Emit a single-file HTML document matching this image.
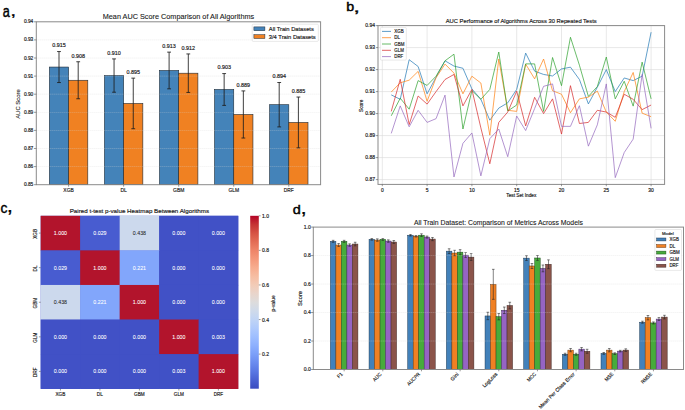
<!DOCTYPE html>
<html><head><meta charset="utf-8"><title>Figure</title>
<style>
html,body{margin:0;padding:0;background:#fff;}
body{width:685px;height:410px;overflow:hidden;font-family:"Liberation Sans",sans-serif;}
svg{display:block;}
</style></head><body>
<svg width="685" height="410" viewBox="0 0 685 410" font-family="Liberation Sans, sans-serif">
<text transform="translate(2.87 16.64) scale(0.787 1)" font-size="16.06" fill="#000" stroke="#000" stroke-width="0.45">a</text>
<text transform="translate(10.27 15.83) scale(1.325 1)" font-size="16.17" fill="#000" stroke="#000" stroke-width="0.25">,</text>
<text transform="translate(346.37 11.47) scale(1.103 1)" font-size="12.93" fill="#000" stroke="#000" stroke-width="0.45">b</text>
<text transform="translate(353.2 11.59) scale(1.644 1)" font-size="14.89" fill="#000" stroke="#000" stroke-width="0.25">,</text>
<text transform="translate(0.42 212.75) scale(0.906 1)" font-size="15.33" fill="#000" stroke="#000" stroke-width="0.4">c</text>
<text transform="translate(6.78 211.95) scale(1.172 1)" font-size="19.15" fill="#000" stroke="#000" stroke-width="0.25">,</text>
<text transform="translate(292.79 214.47) scale(1.072 1)" font-size="13.47" fill="#000" stroke="#000" stroke-width="0.45">d</text>
<text transform="translate(300.58 214.21) scale(1.256 1)" font-size="17.87" fill="#000" stroke="#000" stroke-width="0.25">,</text>
<rect x="49.4" y="67.05" width="19.2" height="117.65" fill="#4483b9" stroke="#1d2a36" stroke-width="0.6"/>
<rect x="68.6" y="80.26" width="19.2" height="104.44" fill="#f08122" stroke="#1d2a36" stroke-width="0.6"/>
<rect x="104.45" y="75.56" width="19.2" height="109.14" fill="#4483b9" stroke="#1d2a36" stroke-width="0.6"/>
<rect x="123.65" y="103.43" width="19.2" height="81.27" fill="#f08122" stroke="#1d2a36" stroke-width="0.6"/>
<rect x="159.5" y="70.49" width="19.2" height="114.21" fill="#4483b9" stroke="#1d2a36" stroke-width="0.6"/>
<rect x="178.7" y="73.2" width="19.2" height="111.5" fill="#f08122" stroke="#1d2a36" stroke-width="0.6"/>
<rect x="214.55" y="89.49" width="19.2" height="95.21" fill="#4483b9" stroke="#1d2a36" stroke-width="0.6"/>
<rect x="233.75" y="114.47" width="19.2" height="70.23" fill="#f08122" stroke="#1d2a36" stroke-width="0.6"/>
<rect x="269.6" y="104.7" width="19.2" height="80" fill="#4483b9" stroke="#1d2a36" stroke-width="0.6"/>
<rect x="288.8" y="122.44" width="19.2" height="62.26" fill="#f08122" stroke="#1d2a36" stroke-width="0.6"/>
<line x1="36.3" y1="166.6" x2="320.6" y2="166.6" stroke="#d8d8d8" stroke-width="0.6" stroke-dasharray="1.1,0.9" opacity="0.6"/>
<line x1="36.3" y1="148.5" x2="320.6" y2="148.5" stroke="#d8d8d8" stroke-width="0.6" stroke-dasharray="1.1,0.9" opacity="0.6"/>
<line x1="36.3" y1="130.4" x2="320.6" y2="130.4" stroke="#d8d8d8" stroke-width="0.6" stroke-dasharray="1.1,0.9" opacity="0.6"/>
<line x1="36.3" y1="112.3" x2="320.6" y2="112.3" stroke="#d8d8d8" stroke-width="0.6" stroke-dasharray="1.1,0.9" opacity="0.6"/>
<line x1="36.3" y1="94.2" x2="320.6" y2="94.2" stroke="#d8d8d8" stroke-width="0.6" stroke-dasharray="1.1,0.9" opacity="0.6"/>
<line x1="36.3" y1="76.1" x2="320.6" y2="76.1" stroke="#d8d8d8" stroke-width="0.6" stroke-dasharray="1.1,0.9" opacity="0.6"/>
<line x1="36.3" y1="58" x2="320.6" y2="58" stroke="#d8d8d8" stroke-width="0.6" stroke-dasharray="1.1,0.9" opacity="0.6"/>
<line x1="36.3" y1="39.9" x2="320.6" y2="39.9" stroke="#d8d8d8" stroke-width="0.6" stroke-dasharray="1.1,0.9" opacity="0.6"/>
<line x1="59" y1="51.55" x2="59" y2="82.55" stroke="#1e1e1e" stroke-width="0.85"/>
<line x1="57.1" y1="51.55" x2="60.9" y2="51.55" stroke="#1e1e1e" stroke-width="0.85"/>
<line x1="57.1" y1="82.55" x2="60.9" y2="82.55" stroke="#1e1e1e" stroke-width="0.85"/>
<text x="59" y="47.35" font-size="5.14" text-anchor="middle" fill="#1a1a1a" stroke="#1a1a1a" stroke-width="0.16" textLength="13.51" lengthAdjust="spacingAndGlyphs">0.915</text>
<line x1="78.2" y1="61.76" x2="78.2" y2="98.76" stroke="#1e1e1e" stroke-width="0.85"/>
<line x1="76.3" y1="61.76" x2="80.1" y2="61.76" stroke="#1e1e1e" stroke-width="0.85"/>
<line x1="76.3" y1="98.76" x2="80.1" y2="98.76" stroke="#1e1e1e" stroke-width="0.85"/>
<text x="78.2" y="57.56" font-size="5.14" text-anchor="middle" fill="#1a1a1a" stroke="#1a1a1a" stroke-width="0.16" textLength="13.51" lengthAdjust="spacingAndGlyphs">0.908</text>
<line x1="114.05" y1="58.91" x2="114.05" y2="92.21" stroke="#1e1e1e" stroke-width="0.85"/>
<line x1="112.15" y1="58.91" x2="115.95" y2="58.91" stroke="#1e1e1e" stroke-width="0.85"/>
<line x1="112.15" y1="92.21" x2="115.95" y2="92.21" stroke="#1e1e1e" stroke-width="0.85"/>
<text x="114.05" y="54.71" font-size="5.14" text-anchor="middle" fill="#1a1a1a" stroke="#1a1a1a" stroke-width="0.16" textLength="13.51" lengthAdjust="spacingAndGlyphs">0.910</text>
<line x1="133.25" y1="78.13" x2="133.25" y2="128.73" stroke="#1e1e1e" stroke-width="0.85"/>
<line x1="131.35" y1="78.13" x2="135.15" y2="78.13" stroke="#1e1e1e" stroke-width="0.85"/>
<line x1="131.35" y1="128.73" x2="135.15" y2="128.73" stroke="#1e1e1e" stroke-width="0.85"/>
<text x="133.25" y="73.93" font-size="5.14" text-anchor="middle" fill="#1a1a1a" stroke="#1a1a1a" stroke-width="0.16" textLength="13.51" lengthAdjust="spacingAndGlyphs">0.895</text>
<line x1="169.1" y1="52.14" x2="169.1" y2="88.84" stroke="#1e1e1e" stroke-width="0.85"/>
<line x1="167.2" y1="52.14" x2="171" y2="52.14" stroke="#1e1e1e" stroke-width="0.85"/>
<line x1="167.2" y1="88.84" x2="171" y2="88.84" stroke="#1e1e1e" stroke-width="0.85"/>
<text x="169.1" y="47.94" font-size="5.14" text-anchor="middle" fill="#1a1a1a" stroke="#1a1a1a" stroke-width="0.16" textLength="13.51" lengthAdjust="spacingAndGlyphs">0.913</text>
<line x1="188.3" y1="53.95" x2="188.3" y2="92.45" stroke="#1e1e1e" stroke-width="0.85"/>
<line x1="186.4" y1="53.95" x2="190.2" y2="53.95" stroke="#1e1e1e" stroke-width="0.85"/>
<line x1="186.4" y1="92.45" x2="190.2" y2="92.45" stroke="#1e1e1e" stroke-width="0.85"/>
<text x="188.3" y="49.75" font-size="5.14" text-anchor="middle" fill="#1a1a1a" stroke="#1a1a1a" stroke-width="0.16" textLength="13.51" lengthAdjust="spacingAndGlyphs">0.912</text>
<line x1="224.15" y1="73.59" x2="224.15" y2="105.39" stroke="#1e1e1e" stroke-width="0.85"/>
<line x1="222.25" y1="73.59" x2="226.05" y2="73.59" stroke="#1e1e1e" stroke-width="0.85"/>
<line x1="222.25" y1="105.39" x2="226.05" y2="105.39" stroke="#1e1e1e" stroke-width="0.85"/>
<text x="224.15" y="69.39" font-size="5.14" text-anchor="middle" fill="#1a1a1a" stroke="#1a1a1a" stroke-width="0.16" textLength="13.51" lengthAdjust="spacingAndGlyphs">0.903</text>
<line x1="243.35" y1="90.92" x2="243.35" y2="138.02" stroke="#1e1e1e" stroke-width="0.85"/>
<line x1="241.45" y1="90.92" x2="245.25" y2="90.92" stroke="#1e1e1e" stroke-width="0.85"/>
<line x1="241.45" y1="138.02" x2="245.25" y2="138.02" stroke="#1e1e1e" stroke-width="0.85"/>
<text x="243.35" y="86.72" font-size="5.14" text-anchor="middle" fill="#1a1a1a" stroke="#1a1a1a" stroke-width="0.16" textLength="13.51" lengthAdjust="spacingAndGlyphs">0.889</text>
<line x1="279.2" y1="82.5" x2="279.2" y2="126.9" stroke="#1e1e1e" stroke-width="0.85"/>
<line x1="277.3" y1="82.5" x2="281.1" y2="82.5" stroke="#1e1e1e" stroke-width="0.85"/>
<line x1="277.3" y1="126.9" x2="281.1" y2="126.9" stroke="#1e1e1e" stroke-width="0.85"/>
<text x="279.2" y="78.3" font-size="5.14" text-anchor="middle" fill="#1a1a1a" stroke="#1a1a1a" stroke-width="0.16" textLength="13.51" lengthAdjust="spacingAndGlyphs">0.894</text>
<line x1="298.4" y1="97.04" x2="298.4" y2="147.84" stroke="#1e1e1e" stroke-width="0.85"/>
<line x1="296.5" y1="97.04" x2="300.3" y2="97.04" stroke="#1e1e1e" stroke-width="0.85"/>
<line x1="296.5" y1="147.84" x2="300.3" y2="147.84" stroke="#1e1e1e" stroke-width="0.85"/>
<text x="298.4" y="92.84" font-size="5.14" text-anchor="middle" fill="#1a1a1a" stroke="#1a1a1a" stroke-width="0.16" textLength="13.51" lengthAdjust="spacingAndGlyphs">0.885</text>
<rect x="36.3" y="21.8" width="284.3" height="162.9" fill="none" stroke="#8a8a8a" stroke-width="1"/>
<line x1="33.9" y1="184.7" x2="36.3" y2="184.7" stroke="#555555" stroke-width="0.6"/>
<text x="33.3" y="186.25" font-size="4.58" text-anchor="end" fill="#1a1a1a" stroke="#1a1a1a" stroke-width="0.16" textLength="9.35" lengthAdjust="spacingAndGlyphs">0.85</text>
<line x1="33.9" y1="166.6" x2="36.3" y2="166.6" stroke="#555555" stroke-width="0.6"/>
<text x="33.3" y="168.15" font-size="4.58" text-anchor="end" fill="#1a1a1a" stroke="#1a1a1a" stroke-width="0.16" textLength="9.35" lengthAdjust="spacingAndGlyphs">0.86</text>
<line x1="33.9" y1="148.5" x2="36.3" y2="148.5" stroke="#555555" stroke-width="0.6"/>
<text x="33.3" y="150.05" font-size="4.58" text-anchor="end" fill="#1a1a1a" stroke="#1a1a1a" stroke-width="0.16" textLength="9.35" lengthAdjust="spacingAndGlyphs">0.87</text>
<line x1="33.9" y1="130.4" x2="36.3" y2="130.4" stroke="#555555" stroke-width="0.6"/>
<text x="33.3" y="131.95" font-size="4.58" text-anchor="end" fill="#1a1a1a" stroke="#1a1a1a" stroke-width="0.16" textLength="9.35" lengthAdjust="spacingAndGlyphs">0.88</text>
<line x1="33.9" y1="112.3" x2="36.3" y2="112.3" stroke="#555555" stroke-width="0.6"/>
<text x="33.3" y="113.85" font-size="4.58" text-anchor="end" fill="#1a1a1a" stroke="#1a1a1a" stroke-width="0.16" textLength="9.35" lengthAdjust="spacingAndGlyphs">0.89</text>
<line x1="33.9" y1="94.2" x2="36.3" y2="94.2" stroke="#555555" stroke-width="0.6"/>
<text x="33.3" y="95.75" font-size="4.58" text-anchor="end" fill="#1a1a1a" stroke="#1a1a1a" stroke-width="0.16" textLength="9.35" lengthAdjust="spacingAndGlyphs">0.90</text>
<line x1="33.9" y1="76.1" x2="36.3" y2="76.1" stroke="#555555" stroke-width="0.6"/>
<text x="33.3" y="77.65" font-size="4.58" text-anchor="end" fill="#1a1a1a" stroke="#1a1a1a" stroke-width="0.16" textLength="9.35" lengthAdjust="spacingAndGlyphs">0.91</text>
<line x1="33.9" y1="58" x2="36.3" y2="58" stroke="#555555" stroke-width="0.6"/>
<text x="33.3" y="59.55" font-size="4.58" text-anchor="end" fill="#1a1a1a" stroke="#1a1a1a" stroke-width="0.16" textLength="9.35" lengthAdjust="spacingAndGlyphs">0.92</text>
<line x1="33.9" y1="39.9" x2="36.3" y2="39.9" stroke="#555555" stroke-width="0.6"/>
<text x="33.3" y="41.45" font-size="4.58" text-anchor="end" fill="#1a1a1a" stroke="#1a1a1a" stroke-width="0.16" textLength="9.35" lengthAdjust="spacingAndGlyphs">0.93</text>
<line x1="33.9" y1="21.8" x2="36.3" y2="21.8" stroke="#555555" stroke-width="0.6"/>
<text x="33.3" y="23.35" font-size="4.58" text-anchor="end" fill="#1a1a1a" stroke="#1a1a1a" stroke-width="0.16" textLength="9.35" lengthAdjust="spacingAndGlyphs">0.94</text>
<line x1="68.6" y1="184.7" x2="68.6" y2="186.7" stroke="#555555" stroke-width="0.6"/>
<text x="68.6" y="192.2" font-size="5.33" text-anchor="middle" fill="#1a1a1a" stroke="#1a1a1a" stroke-width="0.16" textLength="10.49" lengthAdjust="spacingAndGlyphs">XGB</text>
<line x1="123.65" y1="184.7" x2="123.65" y2="186.7" stroke="#555555" stroke-width="0.6"/>
<text x="123.65" y="192.2" font-size="5.33" text-anchor="middle" fill="#1a1a1a" stroke="#1a1a1a" stroke-width="0.16" textLength="6.49" lengthAdjust="spacingAndGlyphs">DL</text>
<line x1="178.7" y1="184.7" x2="178.7" y2="186.7" stroke="#555555" stroke-width="0.6"/>
<text x="178.7" y="192.2" font-size="5.33" text-anchor="middle" fill="#1a1a1a" stroke="#1a1a1a" stroke-width="0.16" textLength="11.36" lengthAdjust="spacingAndGlyphs">GBM</text>
<line x1="233.75" y1="184.7" x2="233.75" y2="186.7" stroke="#555555" stroke-width="0.6"/>
<text x="233.75" y="192.2" font-size="5.33" text-anchor="middle" fill="#1a1a1a" stroke="#1a1a1a" stroke-width="0.16" textLength="10.73" lengthAdjust="spacingAndGlyphs">GLM</text>
<line x1="288.8" y1="184.7" x2="288.8" y2="186.7" stroke="#555555" stroke-width="0.6"/>
<text x="288.8" y="192.2" font-size="5.33" text-anchor="middle" fill="#1a1a1a" stroke="#1a1a1a" stroke-width="0.16" textLength="9.98" lengthAdjust="spacingAndGlyphs">DRF</text>
<text x="178.45" y="19.2" font-size="7.13" text-anchor="middle" fill="#1a1a1a" stroke="#1a1a1a" stroke-width="0.1" textLength="151.44" lengthAdjust="spacingAndGlyphs">Mean AUC Score Comparison of All Algorithms</text>
<text x="20.2" y="104" font-size="6.19" text-anchor="middle" fill="#1a1a1a" stroke="#1a1a1a" stroke-width="0.1" textLength="29.72" lengthAdjust="spacingAndGlyphs" transform="rotate(-90 20.2 104)">AUC Score</text>
<rect x="252.2" y="24.2" width="66.1" height="17.2" fill="#ffffff" stroke="#d6d6d6" stroke-width="0.6" rx="1" opacity="0.9"/>
<rect x="253.9" y="26.9" width="11" height="3.8" fill="#4483b9" stroke="#1d2a36" stroke-width="0.5"/>
<rect x="253.9" y="34.7" width="11" height="3.8" fill="#f08122" stroke="#1d2a36" stroke-width="0.5"/>
<text x="268.8" y="30.7" font-size="5.64" fill="#1a1a1a" stroke="#1a1a1a" stroke-width="0.16" textLength="45.04" lengthAdjust="spacingAndGlyphs">All Train Datasets</text>
<text x="268.8" y="38.5" font-size="5.64" fill="#1a1a1a" stroke="#1a1a1a" stroke-width="0.16" textLength="46.95" lengthAdjust="spacingAndGlyphs">3/4 Train Datasets</text>
<line x1="382.3" y1="25.6" x2="382.3" y2="184.4" stroke="#d9d9d9" stroke-width="0.6"/>
<line x1="427.1" y1="25.6" x2="427.1" y2="184.4" stroke="#d9d9d9" stroke-width="0.6"/>
<line x1="471.9" y1="25.6" x2="471.9" y2="184.4" stroke="#d9d9d9" stroke-width="0.6"/>
<line x1="516.7" y1="25.6" x2="516.7" y2="184.4" stroke="#d9d9d9" stroke-width="0.6"/>
<line x1="561.5" y1="25.6" x2="561.5" y2="184.4" stroke="#d9d9d9" stroke-width="0.6"/>
<line x1="606.3" y1="25.6" x2="606.3" y2="184.4" stroke="#d9d9d9" stroke-width="0.6"/>
<line x1="651.1" y1="25.6" x2="651.1" y2="184.4" stroke="#d9d9d9" stroke-width="0.6"/>
<line x1="378" y1="179.6" x2="664.6" y2="179.6" stroke="#d9d9d9" stroke-width="0.6"/>
<line x1="378" y1="157.6" x2="664.6" y2="157.6" stroke="#d9d9d9" stroke-width="0.6"/>
<line x1="378" y1="135.6" x2="664.6" y2="135.6" stroke="#d9d9d9" stroke-width="0.6"/>
<line x1="378" y1="113.6" x2="664.6" y2="113.6" stroke="#d9d9d9" stroke-width="0.6"/>
<line x1="378" y1="91.6" x2="664.6" y2="91.6" stroke="#d9d9d9" stroke-width="0.6"/>
<line x1="378" y1="69.6" x2="664.6" y2="69.6" stroke="#d9d9d9" stroke-width="0.6"/>
<line x1="378" y1="47.6" x2="664.6" y2="47.6" stroke="#d9d9d9" stroke-width="0.6"/>
<line x1="378" y1="25.6" x2="664.6" y2="25.6" stroke="#d9d9d9" stroke-width="0.6"/>
<polyline points="391.26,94.9 400.22,99.3 409.18,59.7 418.14,66.52 427.1,93.8 436.06,77.3 445.02,60.8 453.98,66.08 462.94,68.28 471.9,88.96 480.86,99.3 489.82,120.2 498.78,108.1 507.74,102.82 516.7,89.4 525.66,53.1 534.62,71.14 543.58,74.44 552.54,75.98 561.5,68.94 570.46,67.18 579.42,79.5 588.38,103.92 597.34,87.2 606.3,69.6 615.26,91.6 624.22,77.96 633.18,80.6 642.14,76.2 651.1,32.2" fill="none" stroke="#1f77b4" stroke-width="0.8" stroke-linejoin="round" opacity="0.88"/>
<polyline points="391.26,92.04 400.22,82.8 409.18,80.16 418.14,71.36 427.1,101.28 436.06,77.74 445.02,64.1 453.98,73.12 462.94,93.8 471.9,76.2 480.86,83.02 489.82,135.16 498.78,59.04 507.74,110.3 516.7,111.4 525.66,64.1 534.62,78.84 543.58,59.04 552.54,90.72 561.5,94.24 570.46,112.72 579.42,98.86 588.38,97.1 597.34,91.16 606.3,112.06 615.26,121.3 624.22,91.6 633.18,72.46 642.14,113.16 651.1,116.68" fill="none" stroke="#ff7f0e" stroke-width="0.8" stroke-linejoin="round" opacity="0.88"/>
<polyline points="391.26,115.8 400.22,98.2 409.18,109.2 418.14,80.6 427.1,85.44 436.06,76.2 445.02,60.8 453.98,54.2 462.94,129 471.9,90.5 480.86,99.3 489.82,89.4 498.78,52 507.74,110.96 516.7,105.02 525.66,63.88 534.62,63.88 543.58,111.4 552.54,57.5 561.5,85.66 570.46,37.26 579.42,65.2 588.38,96.44 597.34,86.54 606.3,57.06 615.26,98.86 624.22,81.26 633.18,106.12 642.14,62.12 651.1,98.86" fill="none" stroke="#2ca02c" stroke-width="0.8" stroke-linejoin="round" opacity="0.88"/>
<polyline points="391.26,111.4 400.22,79.28 409.18,124.6 418.14,96 427.1,104.14 436.06,91.6 445.02,79.5 453.98,74.44 462.94,105.9 471.9,89.4 480.86,127.9 489.82,163.76 498.78,122.4 507.74,112.06 516.7,91.16 525.66,125.92 534.62,97.32 543.58,113.6 552.54,98.86 561.5,134.06 570.46,85.66 579.42,123.5 588.38,122.4 597.34,110.3 606.3,112.06 615.26,117.34 624.22,94.24 633.18,99.3 642.14,109.64 651.1,105.02" fill="none" stroke="#d62728" stroke-width="0.8" stroke-linejoin="round" opacity="0.88"/>
<polyline points="391.26,133.4 400.22,105.9 409.18,126.8 418.14,110.3 427.1,122.4 436.06,118.66 445.02,95.12 453.98,176.96 462.94,143.3 471.9,132.96 480.86,175.86 489.82,138.68 498.78,129 507.74,156.72 516.7,116.02 525.66,130.54 534.62,108.54 543.58,86.32 552.54,83.9 561.5,126.36 570.46,126.36 579.42,105.68 588.38,146.16 597.34,124.82 606.3,83.9 615.26,177.62 624.22,152.54 633.18,139.12 642.14,74.44 651.1,128.34" fill="none" stroke="#9467bd" stroke-width="0.8" stroke-linejoin="round" opacity="0.88"/>
<rect x="378" y="25.6" width="286.6" height="158.8" fill="none" stroke="#8a8a8a" stroke-width="1"/>
<line x1="375.8" y1="179.6" x2="378" y2="179.6" stroke="#555555" stroke-width="0.6"/>
<text x="375" y="181.15" font-size="4.75" text-anchor="end" fill="#1a1a1a" stroke="#1a1a1a" stroke-width="0.16" textLength="9.71" lengthAdjust="spacingAndGlyphs">0.87</text>
<line x1="375.8" y1="157.6" x2="378" y2="157.6" stroke="#555555" stroke-width="0.6"/>
<text x="375" y="159.15" font-size="4.75" text-anchor="end" fill="#1a1a1a" stroke="#1a1a1a" stroke-width="0.16" textLength="9.71" lengthAdjust="spacingAndGlyphs">0.88</text>
<line x1="375.8" y1="135.6" x2="378" y2="135.6" stroke="#555555" stroke-width="0.6"/>
<text x="375" y="137.15" font-size="4.75" text-anchor="end" fill="#1a1a1a" stroke="#1a1a1a" stroke-width="0.16" textLength="9.71" lengthAdjust="spacingAndGlyphs">0.89</text>
<line x1="375.8" y1="113.6" x2="378" y2="113.6" stroke="#555555" stroke-width="0.6"/>
<text x="375" y="115.15" font-size="4.75" text-anchor="end" fill="#1a1a1a" stroke="#1a1a1a" stroke-width="0.16" textLength="9.71" lengthAdjust="spacingAndGlyphs">0.90</text>
<line x1="375.8" y1="91.6" x2="378" y2="91.6" stroke="#555555" stroke-width="0.6"/>
<text x="375" y="93.15" font-size="4.75" text-anchor="end" fill="#1a1a1a" stroke="#1a1a1a" stroke-width="0.16" textLength="9.71" lengthAdjust="spacingAndGlyphs">0.91</text>
<line x1="375.8" y1="69.6" x2="378" y2="69.6" stroke="#555555" stroke-width="0.6"/>
<text x="375" y="71.15" font-size="4.75" text-anchor="end" fill="#1a1a1a" stroke="#1a1a1a" stroke-width="0.16" textLength="9.71" lengthAdjust="spacingAndGlyphs">0.92</text>
<line x1="375.8" y1="47.6" x2="378" y2="47.6" stroke="#555555" stroke-width="0.6"/>
<text x="375" y="49.15" font-size="4.75" text-anchor="end" fill="#1a1a1a" stroke="#1a1a1a" stroke-width="0.16" textLength="9.71" lengthAdjust="spacingAndGlyphs">0.93</text>
<line x1="375.8" y1="25.6" x2="378" y2="25.6" stroke="#555555" stroke-width="0.6"/>
<text x="375" y="27.15" font-size="4.75" text-anchor="end" fill="#1a1a1a" stroke="#1a1a1a" stroke-width="0.16" textLength="9.71" lengthAdjust="spacingAndGlyphs">0.94</text>
<line x1="382.3" y1="184.4" x2="382.3" y2="186.2" stroke="#555555" stroke-width="0.6"/>
<text x="382.3" y="191.9" font-size="4.75" text-anchor="middle" fill="#1a1a1a" stroke="#1a1a1a" stroke-width="0.16" textLength="2.77" lengthAdjust="spacingAndGlyphs">0</text>
<line x1="427.1" y1="184.4" x2="427.1" y2="186.2" stroke="#555555" stroke-width="0.6"/>
<text x="427.1" y="191.9" font-size="4.75" text-anchor="middle" fill="#1a1a1a" stroke="#1a1a1a" stroke-width="0.16" textLength="2.77" lengthAdjust="spacingAndGlyphs">5</text>
<line x1="471.9" y1="184.4" x2="471.9" y2="186.2" stroke="#555555" stroke-width="0.6"/>
<text x="471.9" y="191.9" font-size="4.75" text-anchor="middle" fill="#1a1a1a" stroke="#1a1a1a" stroke-width="0.16" textLength="5.55" lengthAdjust="spacingAndGlyphs">10</text>
<line x1="516.7" y1="184.4" x2="516.7" y2="186.2" stroke="#555555" stroke-width="0.6"/>
<text x="516.7" y="191.9" font-size="4.75" text-anchor="middle" fill="#1a1a1a" stroke="#1a1a1a" stroke-width="0.16" textLength="5.55" lengthAdjust="spacingAndGlyphs">15</text>
<line x1="561.5" y1="184.4" x2="561.5" y2="186.2" stroke="#555555" stroke-width="0.6"/>
<text x="561.5" y="191.9" font-size="4.75" text-anchor="middle" fill="#1a1a1a" stroke="#1a1a1a" stroke-width="0.16" textLength="5.55" lengthAdjust="spacingAndGlyphs">20</text>
<line x1="606.3" y1="184.4" x2="606.3" y2="186.2" stroke="#555555" stroke-width="0.6"/>
<text x="606.3" y="191.9" font-size="4.75" text-anchor="middle" fill="#1a1a1a" stroke="#1a1a1a" stroke-width="0.16" textLength="5.55" lengthAdjust="spacingAndGlyphs">25</text>
<line x1="651.1" y1="184.4" x2="651.1" y2="186.2" stroke="#555555" stroke-width="0.6"/>
<text x="651.1" y="191.9" font-size="4.75" text-anchor="middle" fill="#1a1a1a" stroke="#1a1a1a" stroke-width="0.16" textLength="5.55" lengthAdjust="spacingAndGlyphs">30</text>
<text x="521.3" y="196.9" font-size="4.68" text-anchor="middle" fill="#1a1a1a" stroke="#1a1a1a" stroke-width="0.16" textLength="30.03" lengthAdjust="spacingAndGlyphs">Test Set Index</text>
<text x="363.2" y="105.8" font-size="4.75" text-anchor="middle" fill="#1a1a1a" stroke="#1a1a1a" stroke-width="0.16" textLength="12.21" lengthAdjust="spacingAndGlyphs" transform="rotate(-90 363.2 105.8)">Score</text>
<text x="521.2" y="23" font-size="5.7" text-anchor="middle" fill="#1a1a1a" stroke="#1a1a1a" stroke-width="0.16" textLength="150.89" lengthAdjust="spacingAndGlyphs">AUC Performance of Algorithms Across 30 Repeated Tests</text>
<rect x="380.3" y="27.4" width="26" height="32.7" fill="#ffffff" stroke="#d6d6d6" stroke-width="0.6" rx="1" opacity="0.9"/>
<line x1="382" y1="31.4" x2="391" y2="31.4" stroke="#1f77b4" stroke-width="0.9" opacity="0.8"/>
<text x="394.3" y="32.95" font-size="4.75" fill="#1a1a1a" stroke="#1a1a1a" stroke-width="0.16" textLength="9.36" lengthAdjust="spacingAndGlyphs">XGB</text>
<line x1="382" y1="37.7" x2="391" y2="37.7" stroke="#ff7f0e" stroke-width="0.9" opacity="0.8"/>
<text x="394.3" y="39.25" font-size="4.75" fill="#1a1a1a" stroke="#1a1a1a" stroke-width="0.16" textLength="5.79" lengthAdjust="spacingAndGlyphs">DL</text>
<line x1="382" y1="44" x2="391" y2="44" stroke="#2ca02c" stroke-width="0.9" opacity="0.8"/>
<text x="394.3" y="45.55" font-size="4.75" fill="#1a1a1a" stroke="#1a1a1a" stroke-width="0.16" textLength="10.13" lengthAdjust="spacingAndGlyphs">GBM</text>
<line x1="382" y1="50.3" x2="391" y2="50.3" stroke="#d62728" stroke-width="0.9" opacity="0.8"/>
<text x="394.3" y="51.85" font-size="4.75" fill="#1a1a1a" stroke="#1a1a1a" stroke-width="0.16" textLength="9.57" lengthAdjust="spacingAndGlyphs">GLM</text>
<line x1="382" y1="56.6" x2="391" y2="56.6" stroke="#9467bd" stroke-width="0.9" opacity="0.8"/>
<text x="394.3" y="58.15" font-size="4.75" fill="#1a1a1a" stroke="#1a1a1a" stroke-width="0.16" textLength="8.89" lengthAdjust="spacingAndGlyphs">DRF</text>
<rect x="40.7" y="215.8" width="197.4" height="172.9" fill="#4151c6"/>
<rect x="40.7" y="215.8" width="39.78" height="34.88" fill="#b2142c"/>
<rect x="80.18" y="215.8" width="39.78" height="34.88" fill="#485cd0"/>
<rect x="119.66" y="215.8" width="39.78" height="34.88" fill="#ccd9ed"/>
<rect x="159.14" y="215.8" width="39.78" height="34.88" fill="#4151c6"/>
<rect x="198.62" y="215.8" width="39.78" height="34.88" fill="#4151c6"/>
<rect x="40.7" y="250.38" width="39.78" height="34.88" fill="#485cd0"/>
<rect x="80.18" y="250.38" width="39.78" height="34.88" fill="#b2142c"/>
<rect x="119.66" y="250.38" width="39.78" height="34.88" fill="#82a6fb"/>
<rect x="159.14" y="250.38" width="39.78" height="34.88" fill="#4151c6"/>
<rect x="198.62" y="250.38" width="39.78" height="34.88" fill="#4151c6"/>
<rect x="40.7" y="284.96" width="39.78" height="34.88" fill="#ccd9ed"/>
<rect x="80.18" y="284.96" width="39.78" height="34.88" fill="#82a6fb"/>
<rect x="119.66" y="284.96" width="39.78" height="34.88" fill="#b2142c"/>
<rect x="159.14" y="284.96" width="39.78" height="34.88" fill="#4151c6"/>
<rect x="198.62" y="284.96" width="39.78" height="34.88" fill="#4151c6"/>
<rect x="40.7" y="319.54" width="39.78" height="34.88" fill="#4151c6"/>
<rect x="80.18" y="319.54" width="39.78" height="34.88" fill="#4151c6"/>
<rect x="119.66" y="319.54" width="39.78" height="34.88" fill="#4151c6"/>
<rect x="159.14" y="319.54" width="39.78" height="34.88" fill="#b2142c"/>
<rect x="198.62" y="319.54" width="39.78" height="34.88" fill="#4051c6"/>
<rect x="40.7" y="354.12" width="39.78" height="34.88" fill="#4151c6"/>
<rect x="80.18" y="354.12" width="39.78" height="34.88" fill="#4151c6"/>
<rect x="119.66" y="354.12" width="39.78" height="34.88" fill="#4151c6"/>
<rect x="159.14" y="354.12" width="39.78" height="34.88" fill="#4051c6"/>
<rect x="198.62" y="354.12" width="39.78" height="34.88" fill="#b2142c"/>
<text x="60.44" y="235.09" font-size="5.01" text-anchor="middle" fill="#ffffff" stroke="#ffffff" stroke-width="0.06" textLength="13.17" lengthAdjust="spacingAndGlyphs">1.000</text>
<text x="99.92" y="235.09" font-size="5.01" text-anchor="middle" fill="#ffffff" stroke="#ffffff" stroke-width="0.06" textLength="13.17" lengthAdjust="spacingAndGlyphs">0.029</text>
<text x="139.4" y="235.09" font-size="5.01" text-anchor="middle" fill="#262626" stroke="#262626" stroke-width="0.06" textLength="13.17" lengthAdjust="spacingAndGlyphs">0.438</text>
<text x="178.88" y="235.09" font-size="5.01" text-anchor="middle" fill="#ffffff" stroke="#ffffff" stroke-width="0.06" textLength="13.17" lengthAdjust="spacingAndGlyphs">0.000</text>
<text x="218.36" y="235.09" font-size="5.01" text-anchor="middle" fill="#ffffff" stroke="#ffffff" stroke-width="0.06" textLength="13.17" lengthAdjust="spacingAndGlyphs">0.000</text>
<text x="60.44" y="269.67" font-size="5.01" text-anchor="middle" fill="#ffffff" stroke="#ffffff" stroke-width="0.06" textLength="13.17" lengthAdjust="spacingAndGlyphs">0.029</text>
<text x="99.92" y="269.67" font-size="5.01" text-anchor="middle" fill="#ffffff" stroke="#ffffff" stroke-width="0.06" textLength="13.17" lengthAdjust="spacingAndGlyphs">1.000</text>
<text x="139.4" y="269.67" font-size="5.01" text-anchor="middle" fill="#ffffff" stroke="#ffffff" stroke-width="0.06" textLength="13.17" lengthAdjust="spacingAndGlyphs">0.221</text>
<text x="178.88" y="269.67" font-size="5.01" text-anchor="middle" fill="#ffffff" stroke="#ffffff" stroke-width="0.06" textLength="13.17" lengthAdjust="spacingAndGlyphs">0.000</text>
<text x="218.36" y="269.67" font-size="5.01" text-anchor="middle" fill="#ffffff" stroke="#ffffff" stroke-width="0.06" textLength="13.17" lengthAdjust="spacingAndGlyphs">0.000</text>
<text x="60.44" y="304.25" font-size="5.01" text-anchor="middle" fill="#262626" stroke="#262626" stroke-width="0.06" textLength="13.17" lengthAdjust="spacingAndGlyphs">0.438</text>
<text x="99.92" y="304.25" font-size="5.01" text-anchor="middle" fill="#ffffff" stroke="#ffffff" stroke-width="0.06" textLength="13.17" lengthAdjust="spacingAndGlyphs">0.221</text>
<text x="139.4" y="304.25" font-size="5.01" text-anchor="middle" fill="#ffffff" stroke="#ffffff" stroke-width="0.06" textLength="13.17" lengthAdjust="spacingAndGlyphs">1.000</text>
<text x="178.88" y="304.25" font-size="5.01" text-anchor="middle" fill="#ffffff" stroke="#ffffff" stroke-width="0.06" textLength="13.17" lengthAdjust="spacingAndGlyphs">0.000</text>
<text x="218.36" y="304.25" font-size="5.01" text-anchor="middle" fill="#ffffff" stroke="#ffffff" stroke-width="0.06" textLength="13.17" lengthAdjust="spacingAndGlyphs">0.000</text>
<text x="60.44" y="338.83" font-size="5.01" text-anchor="middle" fill="#ffffff" stroke="#ffffff" stroke-width="0.06" textLength="13.17" lengthAdjust="spacingAndGlyphs">0.000</text>
<text x="99.92" y="338.83" font-size="5.01" text-anchor="middle" fill="#ffffff" stroke="#ffffff" stroke-width="0.06" textLength="13.17" lengthAdjust="spacingAndGlyphs">0.000</text>
<text x="139.4" y="338.83" font-size="5.01" text-anchor="middle" fill="#ffffff" stroke="#ffffff" stroke-width="0.06" textLength="13.17" lengthAdjust="spacingAndGlyphs">0.000</text>
<text x="178.88" y="338.83" font-size="5.01" text-anchor="middle" fill="#ffffff" stroke="#ffffff" stroke-width="0.06" textLength="13.17" lengthAdjust="spacingAndGlyphs">1.000</text>
<text x="218.36" y="338.83" font-size="5.01" text-anchor="middle" fill="#ffffff" stroke="#ffffff" stroke-width="0.06" textLength="13.17" lengthAdjust="spacingAndGlyphs">0.003</text>
<text x="60.44" y="373.41" font-size="5.01" text-anchor="middle" fill="#ffffff" stroke="#ffffff" stroke-width="0.06" textLength="13.17" lengthAdjust="spacingAndGlyphs">0.000</text>
<text x="99.92" y="373.41" font-size="5.01" text-anchor="middle" fill="#ffffff" stroke="#ffffff" stroke-width="0.06" textLength="13.17" lengthAdjust="spacingAndGlyphs">0.000</text>
<text x="139.4" y="373.41" font-size="5.01" text-anchor="middle" fill="#ffffff" stroke="#ffffff" stroke-width="0.06" textLength="13.17" lengthAdjust="spacingAndGlyphs">0.000</text>
<text x="178.88" y="373.41" font-size="5.01" text-anchor="middle" fill="#ffffff" stroke="#ffffff" stroke-width="0.06" textLength="13.17" lengthAdjust="spacingAndGlyphs">0.003</text>
<text x="218.36" y="373.41" font-size="5.01" text-anchor="middle" fill="#ffffff" stroke="#ffffff" stroke-width="0.06" textLength="13.17" lengthAdjust="spacingAndGlyphs">1.000</text>
<line x1="60.44" y1="388.7" x2="60.44" y2="390.5" stroke="#555555" stroke-width="0.6"/>
<text x="60.44" y="396" font-size="5.01" text-anchor="middle" fill="#1a1a1a" stroke="#1a1a1a" stroke-width="0.16" textLength="9.87" lengthAdjust="spacingAndGlyphs">XGB</text>
<line x1="38.9" y1="233.09" x2="40.7" y2="233.09" stroke="#555555" stroke-width="0.6"/>
<text x="37" y="233.89" font-size="5.01" text-anchor="middle" fill="#1a1a1a" stroke="#1a1a1a" stroke-width="0.16" textLength="9.87" lengthAdjust="spacingAndGlyphs" transform="rotate(-90 37 233.89)">XGB</text>
<line x1="99.92" y1="388.7" x2="99.92" y2="390.5" stroke="#555555" stroke-width="0.6"/>
<text x="99.92" y="396" font-size="5.01" text-anchor="middle" fill="#1a1a1a" stroke="#1a1a1a" stroke-width="0.16" textLength="6.11" lengthAdjust="spacingAndGlyphs">DL</text>
<line x1="38.9" y1="267.67" x2="40.7" y2="267.67" stroke="#555555" stroke-width="0.6"/>
<text x="37" y="268.47" font-size="5.01" text-anchor="middle" fill="#1a1a1a" stroke="#1a1a1a" stroke-width="0.16" textLength="6.11" lengthAdjust="spacingAndGlyphs" transform="rotate(-90 37 268.47)">DL</text>
<line x1="139.4" y1="388.7" x2="139.4" y2="390.5" stroke="#555555" stroke-width="0.6"/>
<text x="139.4" y="396" font-size="5.01" text-anchor="middle" fill="#1a1a1a" stroke="#1a1a1a" stroke-width="0.16" textLength="10.69" lengthAdjust="spacingAndGlyphs">GBM</text>
<line x1="38.9" y1="302.25" x2="40.7" y2="302.25" stroke="#555555" stroke-width="0.6"/>
<text x="37" y="303.05" font-size="5.01" text-anchor="middle" fill="#1a1a1a" stroke="#1a1a1a" stroke-width="0.16" textLength="10.69" lengthAdjust="spacingAndGlyphs" transform="rotate(-90 37 303.05)">GBM</text>
<line x1="178.88" y1="388.7" x2="178.88" y2="390.5" stroke="#555555" stroke-width="0.6"/>
<text x="178.88" y="396" font-size="5.01" text-anchor="middle" fill="#1a1a1a" stroke="#1a1a1a" stroke-width="0.16" textLength="10.1" lengthAdjust="spacingAndGlyphs">GLM</text>
<line x1="38.9" y1="336.83" x2="40.7" y2="336.83" stroke="#555555" stroke-width="0.6"/>
<text x="37" y="337.63" font-size="5.01" text-anchor="middle" fill="#1a1a1a" stroke="#1a1a1a" stroke-width="0.16" textLength="10.1" lengthAdjust="spacingAndGlyphs" transform="rotate(-90 37 337.63)">GLM</text>
<line x1="218.36" y1="388.7" x2="218.36" y2="390.5" stroke="#555555" stroke-width="0.6"/>
<text x="218.36" y="396" font-size="5.01" text-anchor="middle" fill="#1a1a1a" stroke="#1a1a1a" stroke-width="0.16" textLength="9.38" lengthAdjust="spacingAndGlyphs">DRF</text>
<line x1="38.9" y1="371.41" x2="40.7" y2="371.41" stroke="#555555" stroke-width="0.6"/>
<text x="37" y="372.21" font-size="5.01" text-anchor="middle" fill="#1a1a1a" stroke="#1a1a1a" stroke-width="0.16" textLength="9.38" lengthAdjust="spacingAndGlyphs" transform="rotate(-90 37 372.21)">DRF</text>
<text x="139.4" y="213" font-size="5.97" text-anchor="middle" fill="#1a1a1a" stroke="#1a1a1a" stroke-width="0.16" textLength="139.4" lengthAdjust="spacingAndGlyphs">Paired t-test p-value Heatmap Between Algorithms</text>
<defs><linearGradient id="cw" x1="0" y1="1" x2="0" y2="0"><stop offset="0" stop-color="#3b4cc0"/><stop offset="0.05" stop-color="#4961d2"/><stop offset="0.1" stop-color="#5977e3"/><stop offset="0.15" stop-color="#6a8bef"/><stop offset="0.2" stop-color="#7b9ff9"/><stop offset="0.25" stop-color="#8db0fe"/><stop offset="0.3" stop-color="#9ebeff"/><stop offset="0.35" stop-color="#afcafc"/><stop offset="0.4" stop-color="#c0d4f5"/><stop offset="0.45" stop-color="#cfdaea"/><stop offset="0.5" stop-color="#dddcdc"/><stop offset="0.55" stop-color="#e9d5cb"/><stop offset="0.6" stop-color="#f2cbb7"/><stop offset="0.65" stop-color="#f6bda2"/><stop offset="0.7" stop-color="#f7ac8e"/><stop offset="0.75" stop-color="#f4987a"/><stop offset="0.8" stop-color="#ee8468"/><stop offset="0.85" stop-color="#e36c55"/><stop offset="0.9" stop-color="#d65244"/><stop offset="0.95" stop-color="#c53334"/><stop offset="1" stop-color="#b40426"/></linearGradient></defs>
<rect x="250.2" y="215.8" width="8.6" height="172.9" fill="url(#cw)"/>
<line x1="258.8" y1="354.12" x2="260.6" y2="354.12" stroke="#555555" stroke-width="0.6"/>
<text x="262" y="356.12" font-size="4.8" fill="#1a1a1a" stroke="#1a1a1a" stroke-width="0.16" textLength="7" lengthAdjust="spacingAndGlyphs">0.2</text>
<line x1="258.8" y1="319.54" x2="260.6" y2="319.54" stroke="#555555" stroke-width="0.6"/>
<text x="262" y="321.54" font-size="4.8" fill="#1a1a1a" stroke="#1a1a1a" stroke-width="0.16" textLength="7" lengthAdjust="spacingAndGlyphs">0.4</text>
<line x1="258.8" y1="284.96" x2="260.6" y2="284.96" stroke="#555555" stroke-width="0.6"/>
<text x="262" y="286.96" font-size="4.8" fill="#1a1a1a" stroke="#1a1a1a" stroke-width="0.16" textLength="7" lengthAdjust="spacingAndGlyphs">0.6</text>
<line x1="258.8" y1="250.38" x2="260.6" y2="250.38" stroke="#555555" stroke-width="0.6"/>
<text x="262" y="252.38" font-size="4.8" fill="#1a1a1a" stroke="#1a1a1a" stroke-width="0.16" textLength="7" lengthAdjust="spacingAndGlyphs">0.8</text>
<line x1="258.8" y1="215.8" x2="260.6" y2="215.8" stroke="#555555" stroke-width="0.6"/>
<text x="262" y="217.8" font-size="4.8" fill="#1a1a1a" stroke="#1a1a1a" stroke-width="0.16" textLength="7" lengthAdjust="spacingAndGlyphs">1.0</text>
<text x="275" y="303.4" font-size="4.8" text-anchor="middle" fill="#1a1a1a" stroke="#1a1a1a" stroke-width="0.16" textLength="16.28" lengthAdjust="spacingAndGlyphs" transform="rotate(-90 275 303.4)">p-value</text>
<rect x="330.4" y="241.34" width="5.5" height="128.16" fill="#4281ba" stroke="#1c3a55" stroke-width="0.5"/>
<rect x="335.9" y="245.04" width="5.5" height="124.46" fill="#f08023" stroke="#6e3a10" stroke-width="0.5"/>
<rect x="341.4" y="241.34" width="5.5" height="128.16" fill="#47ab3b" stroke="#1c4f1c" stroke-width="0.5"/>
<rect x="346.9" y="245.04" width="5.5" height="124.46" fill="#9564c3" stroke="#46305c" stroke-width="0.5"/>
<rect x="352.4" y="244.05" width="5.5" height="125.45" fill="#8b544a" stroke="#402622" stroke-width="0.5"/>
<rect x="369.06" y="239.35" width="5.5" height="130.15" fill="#4281ba" stroke="#1c3a55" stroke-width="0.5"/>
<rect x="374.56" y="240.06" width="5.5" height="129.44" fill="#f08023" stroke="#6e3a10" stroke-width="0.5"/>
<rect x="380.06" y="239.35" width="5.5" height="130.15" fill="#47ab3b" stroke="#1c4f1c" stroke-width="0.5"/>
<rect x="385.56" y="241.06" width="5.5" height="128.44" fill="#9564c3" stroke="#46305c" stroke-width="0.5"/>
<rect x="391.06" y="242.05" width="5.5" height="127.45" fill="#8b544a" stroke="#402622" stroke-width="0.5"/>
<rect x="407.72" y="235.22" width="5.5" height="134.28" fill="#4281ba" stroke="#1c3a55" stroke-width="0.5"/>
<rect x="413.22" y="236.21" width="5.5" height="133.29" fill="#f08023" stroke="#6e3a10" stroke-width="0.5"/>
<rect x="418.72" y="235.22" width="5.5" height="134.28" fill="#47ab3b" stroke="#1c4f1c" stroke-width="0.5"/>
<rect x="424.22" y="237.07" width="5.5" height="132.43" fill="#9564c3" stroke="#46305c" stroke-width="0.5"/>
<rect x="429.72" y="239.06" width="5.5" height="130.44" fill="#8b544a" stroke="#402622" stroke-width="0.5"/>
<rect x="446.38" y="251.17" width="5.5" height="118.33" fill="#4281ba" stroke="#1c3a55" stroke-width="0.5"/>
<rect x="451.88" y="253.02" width="5.5" height="116.48" fill="#f08023" stroke="#6e3a10" stroke-width="0.5"/>
<rect x="457.38" y="252.16" width="5.5" height="117.34" fill="#47ab3b" stroke="#1c4f1c" stroke-width="0.5"/>
<rect x="462.88" y="255.15" width="5.5" height="114.35" fill="#9564c3" stroke="#46305c" stroke-width="0.5"/>
<rect x="468.38" y="257.15" width="5.5" height="112.35" fill="#8b544a" stroke="#402622" stroke-width="0.5"/>
<rect x="485.04" y="315.96" width="5.5" height="53.54" fill="#4281ba" stroke="#1c3a55" stroke-width="0.5"/>
<rect x="490.54" y="284.34" width="5.5" height="85.16" fill="#f08023" stroke="#6e3a10" stroke-width="0.5"/>
<rect x="496.04" y="316.67" width="5.5" height="52.83" fill="#47ab3b" stroke="#1c4f1c" stroke-width="0.5"/>
<rect x="501.54" y="310.26" width="5.5" height="59.24" fill="#9564c3" stroke="#46305c" stroke-width="0.5"/>
<rect x="507.04" y="305.56" width="5.5" height="63.94" fill="#8b544a" stroke="#402622" stroke-width="0.5"/>
<rect x="523.7" y="258.14" width="5.5" height="111.36" fill="#4281ba" stroke="#1c3a55" stroke-width="0.5"/>
<rect x="529.2" y="265.98" width="5.5" height="103.52" fill="#f08023" stroke="#6e3a10" stroke-width="0.5"/>
<rect x="534.7" y="258" width="5.5" height="111.5" fill="#47ab3b" stroke="#1c4f1c" stroke-width="0.5"/>
<rect x="540.2" y="268.4" width="5.5" height="101.1" fill="#9564c3" stroke="#46305c" stroke-width="0.5"/>
<rect x="545.7" y="264.27" width="5.5" height="105.23" fill="#8b544a" stroke="#402622" stroke-width="0.5"/>
<rect x="562.36" y="354.26" width="5.5" height="15.24" fill="#4281ba" stroke="#1c3a55" stroke-width="0.5"/>
<rect x="567.86" y="350.13" width="5.5" height="19.37" fill="#f08023" stroke="#6e3a10" stroke-width="0.5"/>
<rect x="573.36" y="354.26" width="5.5" height="15.24" fill="#47ab3b" stroke="#1c4f1c" stroke-width="0.5"/>
<rect x="578.86" y="349.14" width="5.5" height="20.36" fill="#9564c3" stroke="#46305c" stroke-width="0.5"/>
<rect x="584.36" y="351.27" width="5.5" height="18.23" fill="#8b544a" stroke="#402622" stroke-width="0.5"/>
<rect x="601.02" y="353.41" width="5.5" height="16.09" fill="#4281ba" stroke="#1c3a55" stroke-width="0.5"/>
<rect x="606.52" y="350.13" width="5.5" height="19.37" fill="#f08023" stroke="#6e3a10" stroke-width="0.5"/>
<rect x="612.02" y="353.69" width="5.5" height="15.81" fill="#47ab3b" stroke="#1c4f1c" stroke-width="0.5"/>
<rect x="617.52" y="351.13" width="5.5" height="18.37" fill="#9564c3" stroke="#46305c" stroke-width="0.5"/>
<rect x="623.02" y="350.13" width="5.5" height="19.37" fill="#8b544a" stroke="#402622" stroke-width="0.5"/>
<rect x="639.68" y="322.22" width="5.5" height="47.28" fill="#4281ba" stroke="#1c3a55" stroke-width="0.5"/>
<rect x="645.18" y="317.67" width="5.5" height="51.83" fill="#f08023" stroke="#6e3a10" stroke-width="0.5"/>
<rect x="650.68" y="322.94" width="5.5" height="46.56" fill="#47ab3b" stroke="#1c4f1c" stroke-width="0.5"/>
<rect x="656.18" y="319.09" width="5.5" height="50.41" fill="#9564c3" stroke="#46305c" stroke-width="0.5"/>
<rect x="661.68" y="317.1" width="5.5" height="52.4" fill="#8b544a" stroke="#402622" stroke-width="0.5"/>
<line x1="313.3" y1="341.02" x2="683.5" y2="341.02" stroke="#d8d8d8" stroke-width="0.6" stroke-dasharray="1.1,0.9" opacity="0.6"/>
<line x1="313.3" y1="312.54" x2="683.5" y2="312.54" stroke="#d8d8d8" stroke-width="0.6" stroke-dasharray="1.1,0.9" opacity="0.6"/>
<line x1="313.3" y1="284.06" x2="683.5" y2="284.06" stroke="#d8d8d8" stroke-width="0.6" stroke-dasharray="1.1,0.9" opacity="0.6"/>
<line x1="313.3" y1="255.58" x2="683.5" y2="255.58" stroke="#d8d8d8" stroke-width="0.6" stroke-dasharray="1.1,0.9" opacity="0.6"/>
<line x1="333.15" y1="240.34" x2="333.15" y2="242.34" stroke="#222" stroke-width="0.7" opacity="0.8"/>
<line x1="331.85" y1="240.34" x2="334.45" y2="240.34" stroke="#222" stroke-width="0.7" opacity="0.8"/>
<line x1="331.85" y1="242.34" x2="334.45" y2="242.34" stroke="#222" stroke-width="0.7" opacity="0.8"/>
<line x1="338.65" y1="243.44" x2="338.65" y2="246.64" stroke="#222" stroke-width="0.7" opacity="0.8"/>
<line x1="337.35" y1="243.44" x2="339.95" y2="243.44" stroke="#222" stroke-width="0.7" opacity="0.8"/>
<line x1="337.35" y1="246.64" x2="339.95" y2="246.64" stroke="#222" stroke-width="0.7" opacity="0.8"/>
<line x1="344.15" y1="240.34" x2="344.15" y2="242.34" stroke="#222" stroke-width="0.7" opacity="0.8"/>
<line x1="342.85" y1="240.34" x2="345.45" y2="240.34" stroke="#222" stroke-width="0.7" opacity="0.8"/>
<line x1="342.85" y1="242.34" x2="345.45" y2="242.34" stroke="#222" stroke-width="0.7" opacity="0.8"/>
<line x1="349.65" y1="243.84" x2="349.65" y2="246.24" stroke="#222" stroke-width="0.7" opacity="0.8"/>
<line x1="348.35" y1="243.84" x2="350.95" y2="243.84" stroke="#222" stroke-width="0.7" opacity="0.8"/>
<line x1="348.35" y1="246.24" x2="350.95" y2="246.24" stroke="#222" stroke-width="0.7" opacity="0.8"/>
<line x1="355.15" y1="242.25" x2="355.15" y2="245.85" stroke="#222" stroke-width="0.7" opacity="0.8"/>
<line x1="353.85" y1="242.25" x2="356.45" y2="242.25" stroke="#222" stroke-width="0.7" opacity="0.8"/>
<line x1="353.85" y1="245.85" x2="356.45" y2="245.85" stroke="#222" stroke-width="0.7" opacity="0.8"/>
<line x1="371.81" y1="238.55" x2="371.81" y2="240.15" stroke="#222" stroke-width="0.7" opacity="0.8"/>
<line x1="370.51" y1="238.55" x2="373.11" y2="238.55" stroke="#222" stroke-width="0.7" opacity="0.8"/>
<line x1="370.51" y1="240.15" x2="373.11" y2="240.15" stroke="#222" stroke-width="0.7" opacity="0.8"/>
<line x1="377.31" y1="238.86" x2="377.31" y2="241.26" stroke="#222" stroke-width="0.7" opacity="0.8"/>
<line x1="376.01" y1="238.86" x2="378.61" y2="238.86" stroke="#222" stroke-width="0.7" opacity="0.8"/>
<line x1="376.01" y1="241.26" x2="378.61" y2="241.26" stroke="#222" stroke-width="0.7" opacity="0.8"/>
<line x1="382.81" y1="238.35" x2="382.81" y2="240.35" stroke="#222" stroke-width="0.7" opacity="0.8"/>
<line x1="381.51" y1="238.35" x2="384.11" y2="238.35" stroke="#222" stroke-width="0.7" opacity="0.8"/>
<line x1="381.51" y1="240.35" x2="384.11" y2="240.35" stroke="#222" stroke-width="0.7" opacity="0.8"/>
<line x1="388.31" y1="239.86" x2="388.31" y2="242.26" stroke="#222" stroke-width="0.7" opacity="0.8"/>
<line x1="387.01" y1="239.86" x2="389.61" y2="239.86" stroke="#222" stroke-width="0.7" opacity="0.8"/>
<line x1="387.01" y1="242.26" x2="389.61" y2="242.26" stroke="#222" stroke-width="0.7" opacity="0.8"/>
<line x1="393.81" y1="240.45" x2="393.81" y2="243.65" stroke="#222" stroke-width="0.7" opacity="0.8"/>
<line x1="392.51" y1="240.45" x2="395.11" y2="240.45" stroke="#222" stroke-width="0.7" opacity="0.8"/>
<line x1="392.51" y1="243.65" x2="395.11" y2="243.65" stroke="#222" stroke-width="0.7" opacity="0.8"/>
<line x1="410.47" y1="234.42" x2="410.47" y2="236.02" stroke="#222" stroke-width="0.7" opacity="0.8"/>
<line x1="409.17" y1="234.42" x2="411.77" y2="234.42" stroke="#222" stroke-width="0.7" opacity="0.8"/>
<line x1="409.17" y1="236.02" x2="411.77" y2="236.02" stroke="#222" stroke-width="0.7" opacity="0.8"/>
<line x1="415.97" y1="235.41" x2="415.97" y2="237.01" stroke="#222" stroke-width="0.7" opacity="0.8"/>
<line x1="414.67" y1="235.41" x2="417.27" y2="235.41" stroke="#222" stroke-width="0.7" opacity="0.8"/>
<line x1="414.67" y1="237.01" x2="417.27" y2="237.01" stroke="#222" stroke-width="0.7" opacity="0.8"/>
<line x1="421.47" y1="233.82" x2="421.47" y2="236.62" stroke="#222" stroke-width="0.7" opacity="0.8"/>
<line x1="420.17" y1="233.82" x2="422.77" y2="233.82" stroke="#222" stroke-width="0.7" opacity="0.8"/>
<line x1="420.17" y1="236.62" x2="422.77" y2="236.62" stroke="#222" stroke-width="0.7" opacity="0.8"/>
<line x1="426.97" y1="236.07" x2="426.97" y2="238.07" stroke="#222" stroke-width="0.7" opacity="0.8"/>
<line x1="425.67" y1="236.07" x2="428.27" y2="236.07" stroke="#222" stroke-width="0.7" opacity="0.8"/>
<line x1="425.67" y1="238.07" x2="428.27" y2="238.07" stroke="#222" stroke-width="0.7" opacity="0.8"/>
<line x1="432.47" y1="237.46" x2="432.47" y2="240.66" stroke="#222" stroke-width="0.7" opacity="0.8"/>
<line x1="431.17" y1="237.46" x2="433.77" y2="237.46" stroke="#222" stroke-width="0.7" opacity="0.8"/>
<line x1="431.17" y1="240.66" x2="433.77" y2="240.66" stroke="#222" stroke-width="0.7" opacity="0.8"/>
<line x1="449.13" y1="248.77" x2="449.13" y2="253.57" stroke="#222" stroke-width="0.7" opacity="0.8"/>
<line x1="447.83" y1="248.77" x2="450.43" y2="248.77" stroke="#222" stroke-width="0.7" opacity="0.8"/>
<line x1="447.83" y1="253.57" x2="450.43" y2="253.57" stroke="#222" stroke-width="0.7" opacity="0.8"/>
<line x1="454.63" y1="250.32" x2="454.63" y2="255.72" stroke="#222" stroke-width="0.7" opacity="0.8"/>
<line x1="453.33" y1="250.32" x2="455.93" y2="250.32" stroke="#222" stroke-width="0.7" opacity="0.8"/>
<line x1="453.33" y1="255.72" x2="455.93" y2="255.72" stroke="#222" stroke-width="0.7" opacity="0.8"/>
<line x1="460.13" y1="249.66" x2="460.13" y2="254.66" stroke="#222" stroke-width="0.7" opacity="0.8"/>
<line x1="458.83" y1="249.66" x2="461.43" y2="249.66" stroke="#222" stroke-width="0.7" opacity="0.8"/>
<line x1="458.83" y1="254.66" x2="461.43" y2="254.66" stroke="#222" stroke-width="0.7" opacity="0.8"/>
<line x1="465.63" y1="252.65" x2="465.63" y2="257.65" stroke="#222" stroke-width="0.7" opacity="0.8"/>
<line x1="464.33" y1="252.65" x2="466.93" y2="252.65" stroke="#222" stroke-width="0.7" opacity="0.8"/>
<line x1="464.33" y1="257.65" x2="466.93" y2="257.65" stroke="#222" stroke-width="0.7" opacity="0.8"/>
<line x1="471.13" y1="253.65" x2="471.13" y2="260.65" stroke="#222" stroke-width="0.7" opacity="0.8"/>
<line x1="469.83" y1="253.65" x2="472.43" y2="253.65" stroke="#222" stroke-width="0.7" opacity="0.8"/>
<line x1="469.83" y1="260.65" x2="472.43" y2="260.65" stroke="#222" stroke-width="0.7" opacity="0.8"/>
<line x1="487.79" y1="312.26" x2="487.79" y2="319.66" stroke="#222" stroke-width="0.7" opacity="0.8"/>
<line x1="486.49" y1="312.26" x2="489.09" y2="312.26" stroke="#222" stroke-width="0.7" opacity="0.8"/>
<line x1="486.49" y1="319.66" x2="489.09" y2="319.66" stroke="#222" stroke-width="0.7" opacity="0.8"/>
<line x1="493.29" y1="269.34" x2="493.29" y2="299.34" stroke="#222" stroke-width="0.7" opacity="0.8"/>
<line x1="491.99" y1="269.34" x2="494.59" y2="269.34" stroke="#222" stroke-width="0.7" opacity="0.8"/>
<line x1="491.99" y1="299.34" x2="494.59" y2="299.34" stroke="#222" stroke-width="0.7" opacity="0.8"/>
<line x1="498.79" y1="313.47" x2="498.79" y2="319.87" stroke="#222" stroke-width="0.7" opacity="0.8"/>
<line x1="497.49" y1="313.47" x2="500.09" y2="313.47" stroke="#222" stroke-width="0.7" opacity="0.8"/>
<line x1="497.49" y1="319.87" x2="500.09" y2="319.87" stroke="#222" stroke-width="0.7" opacity="0.8"/>
<line x1="504.29" y1="307.06" x2="504.29" y2="313.46" stroke="#222" stroke-width="0.7" opacity="0.8"/>
<line x1="502.99" y1="307.06" x2="505.59" y2="307.06" stroke="#222" stroke-width="0.7" opacity="0.8"/>
<line x1="502.99" y1="313.46" x2="505.59" y2="313.46" stroke="#222" stroke-width="0.7" opacity="0.8"/>
<line x1="509.79" y1="302.26" x2="509.79" y2="308.86" stroke="#222" stroke-width="0.7" opacity="0.8"/>
<line x1="508.49" y1="302.26" x2="511.09" y2="302.26" stroke="#222" stroke-width="0.7" opacity="0.8"/>
<line x1="508.49" y1="308.86" x2="511.09" y2="308.86" stroke="#222" stroke-width="0.7" opacity="0.8"/>
<line x1="526.45" y1="255.74" x2="526.45" y2="260.54" stroke="#222" stroke-width="0.7" opacity="0.8"/>
<line x1="525.15" y1="255.74" x2="527.75" y2="255.74" stroke="#222" stroke-width="0.7" opacity="0.8"/>
<line x1="525.15" y1="260.54" x2="527.75" y2="260.54" stroke="#222" stroke-width="0.7" opacity="0.8"/>
<line x1="531.95" y1="263.48" x2="531.95" y2="268.48" stroke="#222" stroke-width="0.7" opacity="0.8"/>
<line x1="530.65" y1="263.48" x2="533.25" y2="263.48" stroke="#222" stroke-width="0.7" opacity="0.8"/>
<line x1="530.65" y1="268.48" x2="533.25" y2="268.48" stroke="#222" stroke-width="0.7" opacity="0.8"/>
<line x1="537.45" y1="255.6" x2="537.45" y2="260.4" stroke="#222" stroke-width="0.7" opacity="0.8"/>
<line x1="536.15" y1="255.6" x2="538.75" y2="255.6" stroke="#222" stroke-width="0.7" opacity="0.8"/>
<line x1="536.15" y1="260.4" x2="538.75" y2="260.4" stroke="#222" stroke-width="0.7" opacity="0.8"/>
<line x1="542.95" y1="265" x2="542.95" y2="271.8" stroke="#222" stroke-width="0.7" opacity="0.8"/>
<line x1="541.65" y1="265" x2="544.25" y2="265" stroke="#222" stroke-width="0.7" opacity="0.8"/>
<line x1="541.65" y1="271.8" x2="544.25" y2="271.8" stroke="#222" stroke-width="0.7" opacity="0.8"/>
<line x1="548.45" y1="259.87" x2="548.45" y2="268.67" stroke="#222" stroke-width="0.7" opacity="0.8"/>
<line x1="547.15" y1="259.87" x2="549.75" y2="259.87" stroke="#222" stroke-width="0.7" opacity="0.8"/>
<line x1="547.15" y1="268.67" x2="549.75" y2="268.67" stroke="#222" stroke-width="0.7" opacity="0.8"/>
<line x1="565.11" y1="353.26" x2="565.11" y2="355.26" stroke="#222" stroke-width="0.7" opacity="0.8"/>
<line x1="563.81" y1="353.26" x2="566.41" y2="353.26" stroke="#222" stroke-width="0.7" opacity="0.8"/>
<line x1="563.81" y1="355.26" x2="566.41" y2="355.26" stroke="#222" stroke-width="0.7" opacity="0.8"/>
<line x1="570.61" y1="348.53" x2="570.61" y2="351.73" stroke="#222" stroke-width="0.7" opacity="0.8"/>
<line x1="569.31" y1="348.53" x2="571.91" y2="348.53" stroke="#222" stroke-width="0.7" opacity="0.8"/>
<line x1="569.31" y1="351.73" x2="571.91" y2="351.73" stroke="#222" stroke-width="0.7" opacity="0.8"/>
<line x1="576.11" y1="353.26" x2="576.11" y2="355.26" stroke="#222" stroke-width="0.7" opacity="0.8"/>
<line x1="574.81" y1="353.26" x2="577.41" y2="353.26" stroke="#222" stroke-width="0.7" opacity="0.8"/>
<line x1="574.81" y1="355.26" x2="577.41" y2="355.26" stroke="#222" stroke-width="0.7" opacity="0.8"/>
<line x1="581.61" y1="347.44" x2="581.61" y2="350.84" stroke="#222" stroke-width="0.7" opacity="0.8"/>
<line x1="580.31" y1="347.44" x2="582.91" y2="347.44" stroke="#222" stroke-width="0.7" opacity="0.8"/>
<line x1="580.31" y1="350.84" x2="582.91" y2="350.84" stroke="#222" stroke-width="0.7" opacity="0.8"/>
<line x1="587.11" y1="349.27" x2="587.11" y2="353.27" stroke="#222" stroke-width="0.7" opacity="0.8"/>
<line x1="585.81" y1="349.27" x2="588.41" y2="349.27" stroke="#222" stroke-width="0.7" opacity="0.8"/>
<line x1="585.81" y1="353.27" x2="588.41" y2="353.27" stroke="#222" stroke-width="0.7" opacity="0.8"/>
<line x1="603.77" y1="352.51" x2="603.77" y2="354.31" stroke="#222" stroke-width="0.7" opacity="0.8"/>
<line x1="602.47" y1="352.51" x2="605.07" y2="352.51" stroke="#222" stroke-width="0.7" opacity="0.8"/>
<line x1="602.47" y1="354.31" x2="605.07" y2="354.31" stroke="#222" stroke-width="0.7" opacity="0.8"/>
<line x1="609.27" y1="348.43" x2="609.27" y2="351.83" stroke="#222" stroke-width="0.7" opacity="0.8"/>
<line x1="607.97" y1="348.43" x2="610.57" y2="348.43" stroke="#222" stroke-width="0.7" opacity="0.8"/>
<line x1="607.97" y1="351.83" x2="610.57" y2="351.83" stroke="#222" stroke-width="0.7" opacity="0.8"/>
<line x1="614.77" y1="352.79" x2="614.77" y2="354.59" stroke="#222" stroke-width="0.7" opacity="0.8"/>
<line x1="613.47" y1="352.79" x2="616.07" y2="352.79" stroke="#222" stroke-width="0.7" opacity="0.8"/>
<line x1="613.47" y1="354.59" x2="616.07" y2="354.59" stroke="#222" stroke-width="0.7" opacity="0.8"/>
<line x1="620.27" y1="350.33" x2="620.27" y2="351.93" stroke="#222" stroke-width="0.7" opacity="0.8"/>
<line x1="618.97" y1="350.33" x2="621.57" y2="350.33" stroke="#222" stroke-width="0.7" opacity="0.8"/>
<line x1="618.97" y1="351.93" x2="621.57" y2="351.93" stroke="#222" stroke-width="0.7" opacity="0.8"/>
<line x1="625.77" y1="348.83" x2="625.77" y2="351.43" stroke="#222" stroke-width="0.7" opacity="0.8"/>
<line x1="624.47" y1="348.83" x2="627.07" y2="348.83" stroke="#222" stroke-width="0.7" opacity="0.8"/>
<line x1="624.47" y1="351.43" x2="627.07" y2="351.43" stroke="#222" stroke-width="0.7" opacity="0.8"/>
<line x1="642.43" y1="321.22" x2="642.43" y2="323.22" stroke="#222" stroke-width="0.7" opacity="0.8"/>
<line x1="641.13" y1="321.22" x2="643.73" y2="321.22" stroke="#222" stroke-width="0.7" opacity="0.8"/>
<line x1="641.13" y1="323.22" x2="643.73" y2="323.22" stroke="#222" stroke-width="0.7" opacity="0.8"/>
<line x1="647.93" y1="315.47" x2="647.93" y2="319.87" stroke="#222" stroke-width="0.7" opacity="0.8"/>
<line x1="646.63" y1="315.47" x2="649.23" y2="315.47" stroke="#222" stroke-width="0.7" opacity="0.8"/>
<line x1="646.63" y1="319.87" x2="649.23" y2="319.87" stroke="#222" stroke-width="0.7" opacity="0.8"/>
<line x1="653.43" y1="321.94" x2="653.43" y2="323.94" stroke="#222" stroke-width="0.7" opacity="0.8"/>
<line x1="652.13" y1="321.94" x2="654.73" y2="321.94" stroke="#222" stroke-width="0.7" opacity="0.8"/>
<line x1="652.13" y1="323.94" x2="654.73" y2="323.94" stroke="#222" stroke-width="0.7" opacity="0.8"/>
<line x1="658.93" y1="317.59" x2="658.93" y2="320.59" stroke="#222" stroke-width="0.7" opacity="0.8"/>
<line x1="657.63" y1="317.59" x2="660.23" y2="317.59" stroke="#222" stroke-width="0.7" opacity="0.8"/>
<line x1="657.63" y1="320.59" x2="660.23" y2="320.59" stroke="#222" stroke-width="0.7" opacity="0.8"/>
<line x1="664.43" y1="315.3" x2="664.43" y2="318.9" stroke="#222" stroke-width="0.7" opacity="0.8"/>
<line x1="663.13" y1="315.3" x2="665.73" y2="315.3" stroke="#222" stroke-width="0.7" opacity="0.8"/>
<line x1="663.13" y1="318.9" x2="665.73" y2="318.9" stroke="#222" stroke-width="0.7" opacity="0.8"/>
<rect x="313.3" y="227.1" width="370.2" height="142.4" fill="none" stroke="#8a8a8a" stroke-width="1"/>
<line x1="311.1" y1="369.5" x2="313.3" y2="369.5" stroke="#555555" stroke-width="0.6"/>
<text x="310.7" y="371.1" font-size="4.8" text-anchor="end" fill="#1a1a1a" stroke="#1a1a1a" stroke-width="0.16" textLength="7" lengthAdjust="spacingAndGlyphs">0.0</text>
<line x1="311.1" y1="341.02" x2="313.3" y2="341.02" stroke="#555555" stroke-width="0.6"/>
<text x="310.7" y="342.62" font-size="4.8" text-anchor="end" fill="#1a1a1a" stroke="#1a1a1a" stroke-width="0.16" textLength="7" lengthAdjust="spacingAndGlyphs">0.2</text>
<line x1="311.1" y1="312.54" x2="313.3" y2="312.54" stroke="#555555" stroke-width="0.6"/>
<text x="310.7" y="314.14" font-size="4.8" text-anchor="end" fill="#1a1a1a" stroke="#1a1a1a" stroke-width="0.16" textLength="7" lengthAdjust="spacingAndGlyphs">0.4</text>
<line x1="311.1" y1="284.06" x2="313.3" y2="284.06" stroke="#555555" stroke-width="0.6"/>
<text x="310.7" y="285.66" font-size="4.8" text-anchor="end" fill="#1a1a1a" stroke="#1a1a1a" stroke-width="0.16" textLength="7" lengthAdjust="spacingAndGlyphs">0.6</text>
<line x1="311.1" y1="255.58" x2="313.3" y2="255.58" stroke="#555555" stroke-width="0.6"/>
<text x="310.7" y="257.18" font-size="4.8" text-anchor="end" fill="#1a1a1a" stroke="#1a1a1a" stroke-width="0.16" textLength="7" lengthAdjust="spacingAndGlyphs">0.8</text>
<line x1="311.1" y1="227.1" x2="313.3" y2="227.1" stroke="#555555" stroke-width="0.6"/>
<text x="310.7" y="228.7" font-size="4.8" text-anchor="end" fill="#1a1a1a" stroke="#1a1a1a" stroke-width="0.16" textLength="7" lengthAdjust="spacingAndGlyphs">1.0</text>
<line x1="344.15" y1="369.5" x2="344.15" y2="371.3" stroke="#555555" stroke-width="0.6"/>
<text x="343.15" y="374.6" font-size="5.12" text-anchor="end" fill="#1a1a1a" stroke="#1a1a1a" stroke-width="0.16" textLength="5.69" lengthAdjust="spacingAndGlyphs" transform="rotate(-45 343.15 374.6)">F1</text>
<line x1="382.81" y1="369.5" x2="382.81" y2="371.3" stroke="#555555" stroke-width="0.6"/>
<text x="381.81" y="374.6" font-size="5.12" text-anchor="end" fill="#1a1a1a" stroke="#1a1a1a" stroke-width="0.16" textLength="9.94" lengthAdjust="spacingAndGlyphs" transform="rotate(-45 381.81 374.6)">AUC</text>
<line x1="421.47" y1="369.5" x2="421.47" y2="371.3" stroke="#555555" stroke-width="0.6"/>
<text x="420.47" y="374.6" font-size="5.12" text-anchor="end" fill="#1a1a1a" stroke="#1a1a1a" stroke-width="0.16" textLength="16.04" lengthAdjust="spacingAndGlyphs" transform="rotate(-45 420.47 374.6)">AUCPR</text>
<line x1="460.13" y1="369.5" x2="460.13" y2="371.3" stroke="#555555" stroke-width="0.6"/>
<text x="459.13" y="374.6" font-size="5.12" text-anchor="end" fill="#1a1a1a" stroke="#1a1a1a" stroke-width="0.16" textLength="9.23" lengthAdjust="spacingAndGlyphs" transform="rotate(-45 459.13 374.6)">Gini</text>
<line x1="498.79" y1="369.5" x2="498.79" y2="371.3" stroke="#555555" stroke-width="0.6"/>
<text x="497.79" y="374.6" font-size="5.12" text-anchor="end" fill="#1a1a1a" stroke="#1a1a1a" stroke-width="0.16" textLength="18.71" lengthAdjust="spacingAndGlyphs" transform="rotate(-45 497.79 374.6)">LogLoss</text>
<line x1="537.45" y1="369.5" x2="537.45" y2="371.3" stroke="#555555" stroke-width="0.6"/>
<text x="536.45" y="374.6" font-size="5.12" text-anchor="end" fill="#1a1a1a" stroke="#1a1a1a" stroke-width="0.16" textLength="10.62" lengthAdjust="spacingAndGlyphs" transform="rotate(-45 536.45 374.6)">MCC</text>
<line x1="576.11" y1="369.5" x2="576.11" y2="371.3" stroke="#555555" stroke-width="0.6"/>
<text x="575.11" y="374.6" font-size="5.12" text-anchor="end" fill="#1a1a1a" stroke="#1a1a1a" stroke-width="0.16" textLength="48.6" lengthAdjust="spacingAndGlyphs" transform="rotate(-45 575.11 374.6)">Mean Per Class Error</text>
<line x1="614.77" y1="369.5" x2="614.77" y2="371.3" stroke="#555555" stroke-width="0.6"/>
<text x="613.77" y="374.6" font-size="5.12" text-anchor="end" fill="#1a1a1a" stroke="#1a1a1a" stroke-width="0.16" textLength="10.01" lengthAdjust="spacingAndGlyphs" transform="rotate(-45 613.77 374.6)">MSE</text>
<line x1="653.43" y1="369.5" x2="653.43" y2="371.3" stroke="#555555" stroke-width="0.6"/>
<text x="652.43" y="374.6" font-size="5.12" text-anchor="end" fill="#1a1a1a" stroke="#1a1a1a" stroke-width="0.16" textLength="13.27" lengthAdjust="spacingAndGlyphs" transform="rotate(-45 652.43 374.6)">RMSE</text>
<text x="498.4" y="225.1" font-size="6.7" text-anchor="middle" fill="#1a1a1a" stroke="#1a1a1a" stroke-width="0.1" textLength="169" lengthAdjust="spacingAndGlyphs">All Train Dataset: Comparison of Metrics Across Models</text>
<text x="302" y="298.5" font-size="5.84" text-anchor="middle" fill="#1a1a1a" stroke="#1a1a1a" stroke-width="0.16" textLength="15.01" lengthAdjust="spacingAndGlyphs" transform="rotate(-90 302 298.5)">Score</text>
<rect x="654.9" y="229.5" width="26.6" height="40.9" fill="#ffffff" stroke="#d6d6d6" stroke-width="0.6" rx="1" opacity="0.9"/>
<text x="667.8" y="234.8" font-size="4.2" text-anchor="middle" fill="#1a1a1a" stroke="#1a1a1a" stroke-width="0.16" textLength="11.56" lengthAdjust="spacingAndGlyphs">Model</text>
<rect x="656.7" y="238" width="9.2" height="2.9" fill="#4281ba" stroke="#1c3a55" stroke-width="0.5"/>
<text x="669.5" y="241" font-size="4.74" fill="#1a1a1a" stroke="#1a1a1a" stroke-width="0.16" textLength="9.33" lengthAdjust="spacingAndGlyphs">XGB</text>
<rect x="656.7" y="244.57" width="9.2" height="2.9" fill="#f08023" stroke="#6e3a10" stroke-width="0.5"/>
<text x="669.5" y="247.57" font-size="4.74" fill="#1a1a1a" stroke="#1a1a1a" stroke-width="0.16" textLength="5.77" lengthAdjust="spacingAndGlyphs">DL</text>
<rect x="656.7" y="251.14" width="9.2" height="2.9" fill="#47ab3b" stroke="#1c4f1c" stroke-width="0.5"/>
<text x="669.5" y="254.14" font-size="4.74" fill="#1a1a1a" stroke="#1a1a1a" stroke-width="0.16" textLength="10.11" lengthAdjust="spacingAndGlyphs">GBM</text>
<rect x="656.7" y="257.71" width="9.2" height="2.9" fill="#9564c3" stroke="#46305c" stroke-width="0.5"/>
<text x="669.5" y="260.71" font-size="4.74" fill="#1a1a1a" stroke="#1a1a1a" stroke-width="0.16" textLength="9.55" lengthAdjust="spacingAndGlyphs">GLM</text>
<rect x="656.7" y="264.28" width="9.2" height="2.9" fill="#8b544a" stroke="#402622" stroke-width="0.5"/>
<text x="669.5" y="267.28" font-size="4.74" fill="#1a1a1a" stroke="#1a1a1a" stroke-width="0.16" textLength="8.87" lengthAdjust="spacingAndGlyphs">DRF</text>
</svg>
</body></html>
